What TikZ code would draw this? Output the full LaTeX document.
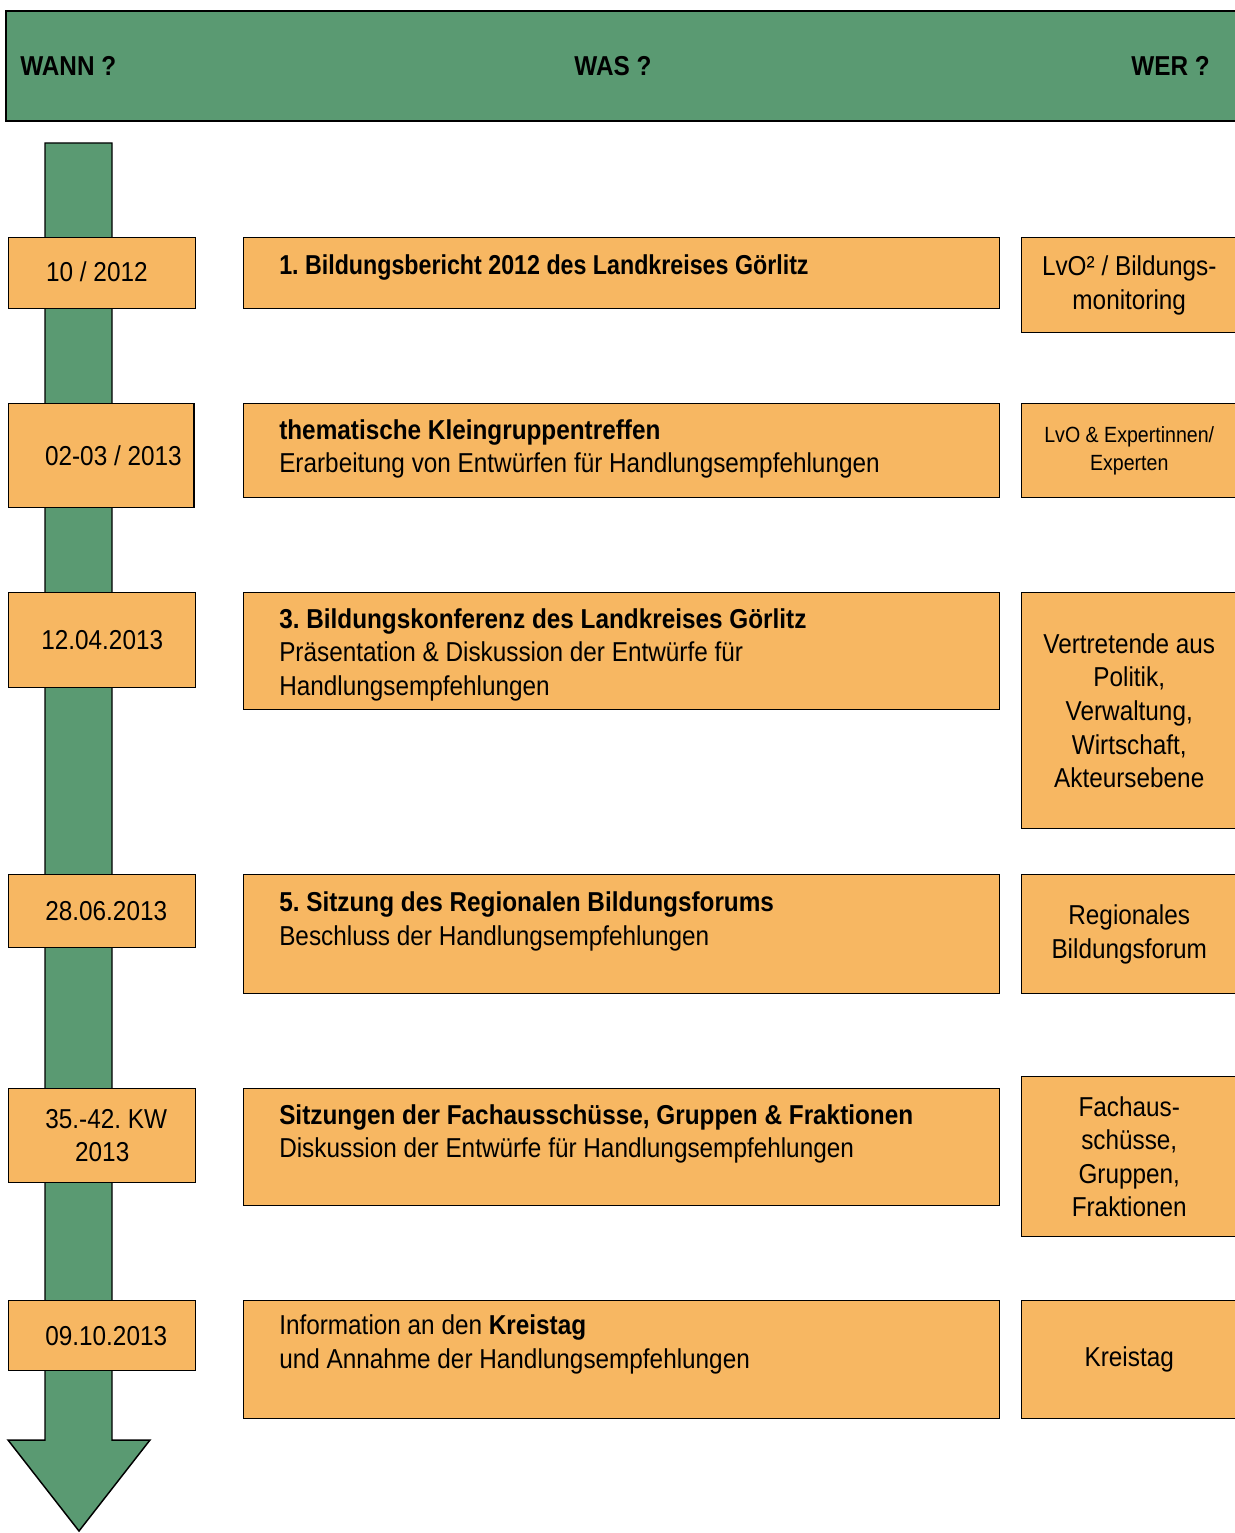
\documentclass[tikz,border=0pt]{standalone}
\usepackage{fontspec}
\setmainfont{Liberation Sans}[FakeStretch=0.89]
\usepackage{graphicx}
\usepackage{xcolor}
\usepackage{tikz}
\usetikzlibrary{positioning}
\definecolor{zeitgruen}{RGB}{90,154,114}
\definecolor{boxorange}{RGB}{247,183,98}

\begin{document}
\frenchspacing
\begin{tikzpicture}[x=0.75pt, y=-0.75pt,
    font=\fontsize{20.5}{25.2}\selectfont,
    kopf/.style={draw, line width=1.8pt, fill=zeitgruen},
    kopftext/.style={font=\fontsize{20.5}{25.2}\selectfont\bfseries, inner sep=0pt},
    datum/.style={draw, line width=1.1pt, fill=boxorange, anchor=north west, minimum width=140.25pt, align=center, inner sep=0pt},
    was/.style={draw, line width=1.1pt, fill=boxorange, anchor=north west, minimum width=567pt, inner sep=0pt},
    wastext/.style={anchor=north west, align=left, inner sep=0pt},
    wer/.style={draw, line width=1.1pt, fill=boxorange, anchor=north west, minimum width=161.25pt, align=center, inner sep=0pt}
]
    \useasboundingbox (0,0) rectangle (1234,1533);

    % Kopfzeile
    \node[kopf, anchor=north west, minimum width=926pt, minimum height=82.5pt, inner sep=0pt] (kopf) at (5,10) {};
    \node[kopftext, anchor=west] (wann) at (20,66) {WANN ?};
    \node[kopftext] (wasq) at (613,66) {WAS ?};
    \node[kopftext, anchor=east] (wer) at (1210,66) {WER ?};

    % Zeitpfeil
    \draw[line width=1.1pt, fill=zeitgruen] (45,143) -- (112,143) -- (112,1440) -- (150,1440)
        -- (79,1531) -- (8,1440) -- (45,1440) -- cycle;

    % WANN
    \node[datum, minimum height=53.25pt] (d1) at (8,237) {\raisebox{3pt}{10 / 2012}\hspace{8pt}};
    \node[datum, minimum height=78pt, minimum width=139pt] (d2) at (8,403) {\hspace{18pt}02-03 / 2013};
    \node[datum, minimum height=71.25pt] (d3) at (8,592) {12.04.2013};
    \node[datum, minimum height=54.75pt] (d4) at (8,874) {\hspace{6pt}28.06.2013};
    \node[datum, minimum height=70.5pt] (d5) at (8,1088) {\hspace{6pt}35.-42. KW\\2013};
    \node[datum, minimum height=52.5pt] (d6) at (8,1300) {\hspace{6pt}09.10.2013};

    % WAS
    \node[was, minimum height=53.25pt] (w1) at (243,237) {};
    \node[was, minimum height=70.5pt] (w2) at (243,403) {};
    \node[was, minimum height=87.75pt] (w3) at (243,592) {};
    \node[was, minimum height=89.25pt] (w4) at (243,874) {};
    \node[was, minimum height=87.75pt] (w5) at (243,1088) {};
    \node[was, minimum height=88.5pt] (w6) at (243,1300) {};

    \node[wastext, below right=13pt and 27pt of w1.north west] (t1) {\scalebox{0.955}[1]{\textbf{1. Bildungsbericht 2012 des Landkreises Görlitz}}};
    \node[wastext, below right=12pt and 27pt of w2.north west] (t2) {\textbf{thematische Kleingruppentreffen}\\Erarbeitung von Entwürfen für Handlungsempfehlungen};
    \node[wastext, below right=12pt and 27pt of w3.north west] (t3) {\textbf{3. Bildungskonferenz des Landkreises Görlitz}\\Präsentation \& Diskussion der Entwürfe für\\Handlungsempfehlungen};
    \node[wastext, below right=13pt and 27pt of w4.north west] (t4) {\textbf{5. Sitzung des Regionalen Bildungsforums}\\Beschluss der Handlungsempfehlungen};
    \node[wastext, below right=12pt and 27pt of w5.north west] (t5) {\textbf{Sitzungen der Fachausschüsse, Gruppen \& Fraktionen}\\Diskussion der Entwürfe für Handlungsempfehlungen};
    \node[wastext, below right=11pt and 27pt of w6.north west] (t6) {Information an den \textbf{Kreistag}\\und Annahme der Handlungsempfehlungen};

    % WER
    \node[wer, minimum height=71.25pt] (p1) at (1021,237) {LvO² / Bildungs-\\monitoring};
    \node[wer, minimum height=70.5pt, font=\fontsize{16.5}{21}\selectfont] (p2) at (1021,403) {LvO \& Expertinnen/\\Experten};
    \node[wer, minimum height=177pt] (p3) at (1021,592) {Vertretende aus\\Politik,\\Verwaltung,\\Wirtschaft,\\Akteursebene};
    \node[wer, minimum height=89.25pt] (p4) at (1021,874) {Regionales\\Bildungsforum};
    \node[wer, minimum height=120pt] (p5) at (1021,1076) {Fachaus-\\schüsse,\\Gruppen,\\Fraktionen};
    \node[wer, minimum height=88.5pt] (p6) at (1021,1300) {Kreistag};

\end{tikzpicture}
\end{document}
